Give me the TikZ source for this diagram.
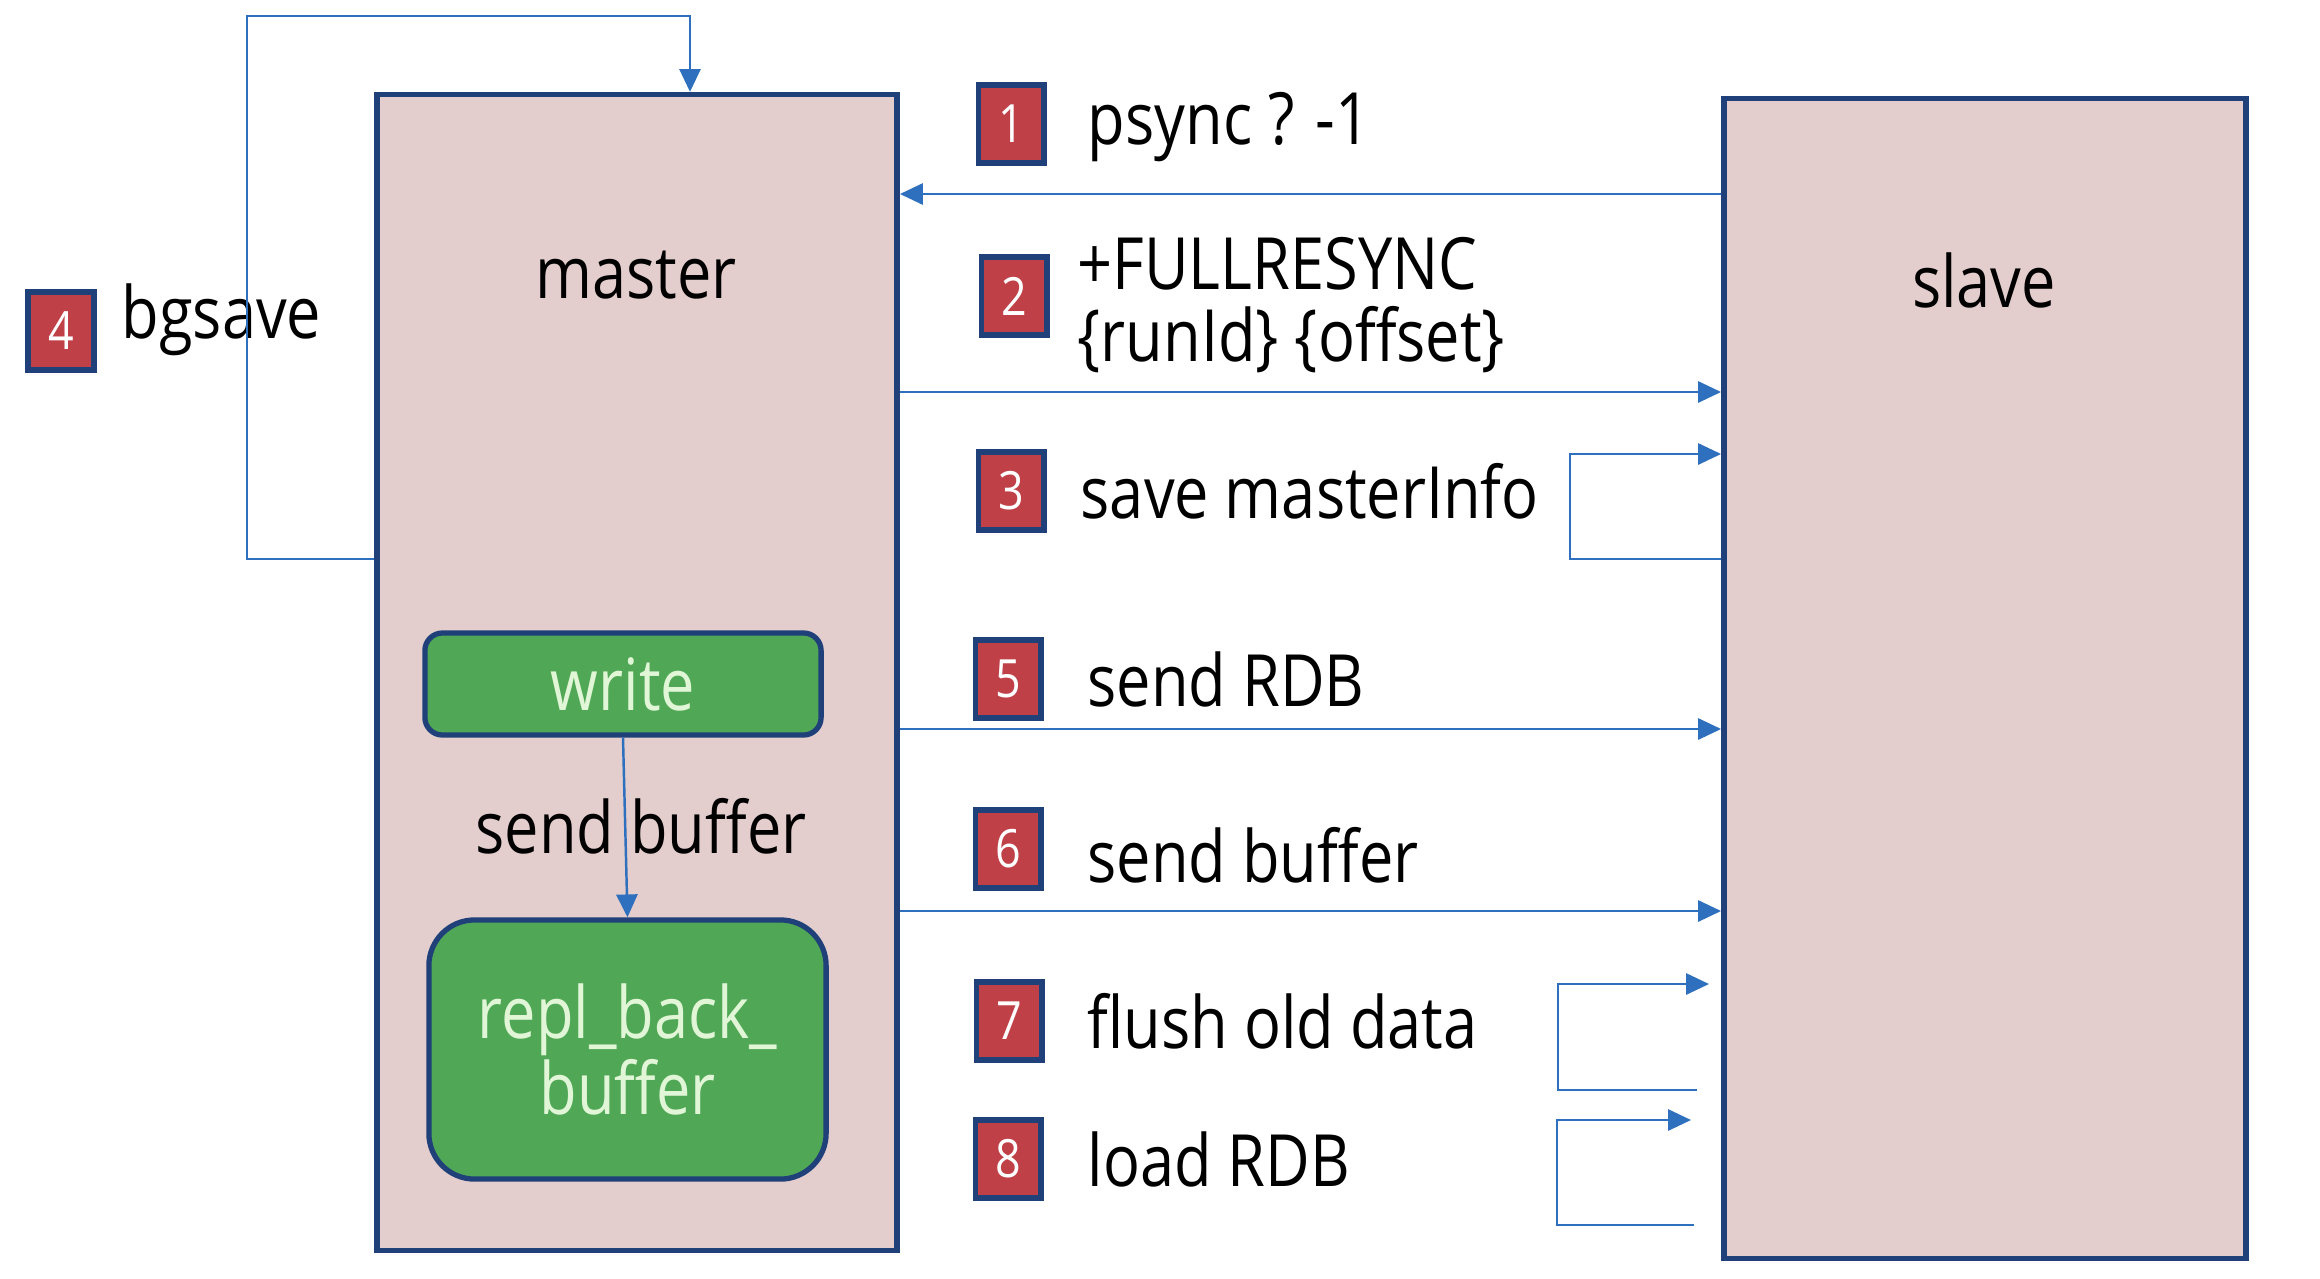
\documentclass[tikz,border=0pt]{standalone}
\usepackage{fontspec}
\setmainfont[FakeStretch=0.85]{Open Sans}
\usepackage{xcolor}
\usepackage{tikz}
\usetikzlibrary{arrows.meta,calc}

\definecolor{hostpink}{RGB}{228,205,205}
\definecolor{navy}{RGB}{31,64,120}
\definecolor{flowblue}{RGB}{46,112,190}
\definecolor{badgered}{RGB}{192,64,72}
\definecolor{bufgreen}{RGB}{80,168,86}
\definecolor{buftext}{RGB}{225,246,215}

\begin{document}
\begin{tikzpicture}[x=0.01cm, y=-0.01cm,
    font=\fontsize{20.5}{20.5}\selectfont,
    hostbox/.style={draw=navy, fill=hostpink, line width=1.6pt, inner sep=0pt},
    bufbox/.style={draw=navy, fill=bufgreen, line width=1.5pt, inner sep=0pt, text=buftext, align=center},
    badge/.style={draw=navy, fill=badgered, line width=1.7pt, minimum width=0.65cm, minimum height=0.78cm,
      inner sep=0pt, text=white, font=\fontsize{15}{15}\selectfont},
    steptext/.style={anchor=west, inner sep=0pt, align=left},
    flow/.style={draw=flowblue, line width=0.7pt, -{Triangle[length=6.5pt, width=6pt]}}]
  \useasboundingbox (0,0) rectangle (2320,1278);
  % ---- the two hosts
  \node[hostbox, minimum width=5.2cm, minimum height=11.55cm] (master) at (637,672.5) {};
  \node[hostbox, minimum width=5.22cm, minimum height=11.59cm] (slave) at (1985,678.5) {};
  \node (mastertxt) at (636,275) {master};
  \node (slavetxt) at (1984,280) {slave};
  % ---- buffers inside the master
  \node[bufbox, rounded corners=5pt, minimum width=3.96cm, minimum height=1.02cm] (write) at (623,684) {write};
  \node[bufbox, rounded corners=13pt, minimum width=3.97cm, minimum height=2.59cm] (repl) at (627.5,1049.5) {repl\_back\_\\buffer};
  \draw[flow] (write.south) -- (repl.north);
  \node[inner sep=0pt] (sendbuf) at (641,826) {send buffer};
  % ---- numbered steps
  \foreach \n/\x/\y in {1/1011/124, 2/1014/296, 3/1011/491, 4/61/331, 5/1008/679, 6/1008/849, 7/1009/1021, 8/1008/1159} {
    \node[badge] (b\n) at (\x,\y) {\n};
  }
  \node[steptext] (t1) at (1087,127) {psync ? -1};
  \node[steptext] (t2) at (1077,305) {+FULLRESYNC\\\{runId\} \{offset\}};
  \node[steptext] (t3) at (1080,491) {save masterInfo};
  \node[steptext] (t4) at (121,320) {bgsave};
  \node[steptext] (t5) at (1087,679) {send RDB};
  \node[steptext] (t6) at (1087,855) {send buffer};
  \node[steptext] (t7) at (1087,1021) {flush old data};
  \node[steptext] (t8) at (1087,1159) {load RDB};
  % ---- messages between master and slave
  \draw[flow] (slave.west |- 0,194) -- (master.east |- 0,194);
  \draw[flow] (master.east |- 0,392) -- (slave.west |- 0,392);
  \draw[flow] (master.east |- 0,729) -- (slave.west |- 0,729);
  \draw[flow] (master.east |- 0,911) -- (slave.west |- 0,911);
  % ---- local steps (loops back to the same host)
  \draw[flow] (master.west |- 0,559) -- (247,559) |- (690,16) -- (master.north -| 690,0);
  \draw[flow] (slave.west |- 0,559) -| (1570,454) -- (slave.west |- 0,454);
  \coordinate (f7) at (1697,1090);
  \coordinate (f8) at (1694,1225);
  \draw[flow] (f7) -| (1558,984) -- (1709,984);
  \draw[flow] (f8) -| (1557,1120) -- (1691,1120);
\end{tikzpicture}
\end{document}
